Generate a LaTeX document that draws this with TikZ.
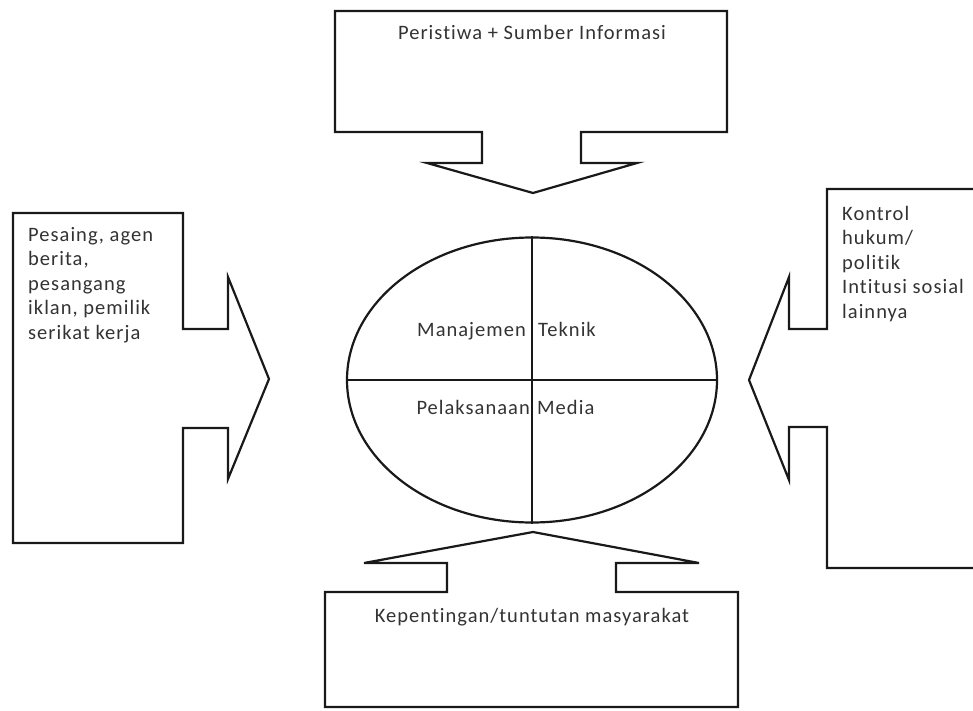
\documentclass[tikz,border=0pt]{standalone}
\usepackage{fontspec}
\setmainfont{Carlito}[LetterSpace=5, Ligatures=NoCommon]
\usepackage{tikz}
\usetikzlibrary{shapes.geometric, positioning}

\begin{document}
\begin{tikzpicture}[
    x=1pt, y=-1pt,
    callout/.style={draw=black!90, line width=2.2pt, line join=miter},
    hub/.style={ellipse, draw=black!90, line width=2.2pt, minimum width=370pt, minimum height=285pt, inner sep=0pt},
    divider/.style={draw=black!90, line width=2.2pt},
    lbl/.style={font=\fontsize{20.5}{24.5}\selectfont, text=black!80, inner sep=0pt},
    sidetext/.style={lbl, align=left, anchor=north west}
]
    % batas gambar
    \clip (0,0) rectangle (973,711);
    \fill[white] (0,0) rectangle (973,711);

    % panah atas
    \draw[callout] (335,11) -- (727,11) -- (727,132) -- (581,132) -- (581,163) -- (637,163)
        -- (533,193) -- (427,163) -- (482,163) -- (482,132) -- (335,132) -- cycle;
    \node[lbl, anchor=base] (event) at (532,40) {Peristiwa + Sumber Informasi};

    % panah kiri
    \draw[callout] (13,213) -- (183,213) -- (183,329) -- (228,329) -- (228,277) -- (269,379)
        -- (228,479) -- (228,428) -- (183,428) -- (183,543) -- (13,543) -- cycle;
    \node[sidetext] (rivals) at (28,227) {Pesaing, agen\\berita,\\pesangang\\iklan, pemilik\\serikat kerja};

    % panah kanan
    \draw[callout] (990,189) -- (827,189) -- (827,329) -- (789,329) -- (789,277) -- (749,380)
        -- (789,480) -- (789,427) -- (827,427) -- (827,568) -- (990,568);
    \node[sidetext] (control) at (842,206) {Kontrol\\hukum/\\politik\\Intitusi sosial\\lainnya};

    % panah bawah
    \draw[callout] (325,707) -- (325,592) -- (447,592) -- (447,563) -- (364,563) -- (533,532)
        -- (699,563) -- (616,563) -- (616,592) -- (738,592) -- (738,707) -- cycle;
    \node[lbl, anchor=base] (public) at (532,622) {Kepentingan/tuntutan masyarakat};

    % media di tengah
    \node[hub] (core) at (532,380) {};
    \draw[divider] (core.north) -- (core.south);
    \draw[divider] (core.west) -- (core.east);
    \node[lbl, anchor=base east] (mgmt) at (526,336) {Manajemen};
    \node[lbl, anchor=base west] (tech) at (538,336) {Teknik};
    \node[lbl, anchor=base east] (exec) at (530,414) {Pelaksanaan};
    \node[lbl, anchor=base west] (media) at (537,414) {Media};
\end{tikzpicture}
\end{document}
